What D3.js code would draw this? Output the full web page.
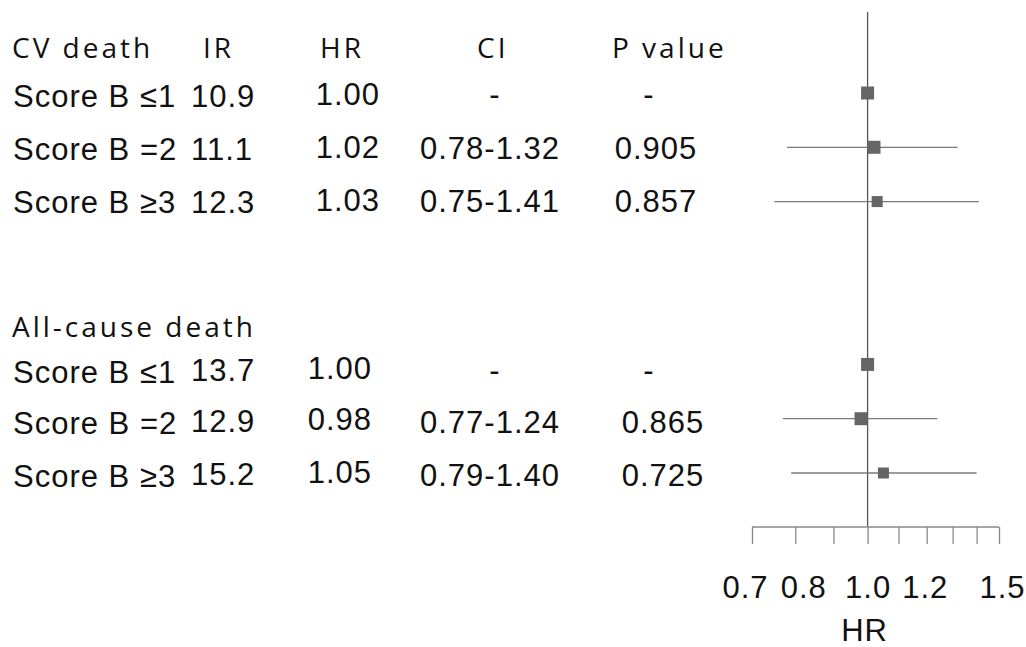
<!DOCTYPE html>
<html>
<head>
<meta charset="utf-8">
<script src="https://cdn.jsdelivr.net/npm/d3@7"></script>
<style>
  html, body { margin: 0; padding: 0; background: #fff; }
  svg { display: block; }
  .num { font-family: "Liberation Sans", Arial, sans-serif; font-size: 31px; letter-spacing: 1px; fill: #111; }
  .head { font-family: "Open Sans", "Noto Sans", sans-serif; font-size: 28px; letter-spacing: 3px; fill: #111; }
</style>
</head>
<body>
<svg id="chart" width="1026" height="647"></svg>
<script>
// Subgroups shown in both outcome blocks
const categories = ["Score B \u22641", "Score B =2", "Score B \u22653"];
const outcomes = ["CV death", "All-cause death"];
const columns = ["IR", "HR", "CI", "P value"];

// CV death
const irCV = [10.9, 11.1, 12.3];
const hrCV = [1.00, 1.02, 1.03];
const loCV = [null, 0.78, 0.75];
const hiCV = [null, 1.32, 1.41];
const pCV = [null, 0.905, 0.857];

// All-cause death
const irAll = [13.7, 12.9, 15.2];
const hrAll = [1.00, 0.98, 1.05];
const loAll = [null, 0.77, 0.79];
const hiAll = [null, 1.24, 1.40];
const pAll = [null, 0.865, 0.725];

// HR axis
const tickValues = [0.7, 0.8, 0.9, 1.0, 1.1, 1.2, 1.3, 1.4, 1.5];
const tickLabels = [0.7, 0.8, 1.0, 1.2, 1.5];
const axisTitle = "HR";

const blocks = [
  { name: outcomes[0], ir: irCV, hr: hrCV, lo: loCV, hi: hiCV, p: pCV },
  { name: outcomes[1], ir: irAll, hr: hrAll, lo: loAll, hi: hiAll, p: pAll }
];

const svg = d3.select("#chart");

// log-scaled HR axis
const x = d3.scaleLog().domain([0.7, 1.5]).range([752, 999]);
// forest plot rows: 1-3 first block, 6-8 second block
const yRow = d3.scaleLinear().domain([1, 8]).range([93, 473]);

const fmt1 = d3.format(".1f"), fmt2 = d3.format(".2f"), fmt3 = d3.format(".3f");

// table layout per block
const layout = [
  { head: 58, rows: [107, 160, 213], hrEnd: 380, hrDy: -2, irDy: 0, pMid: 656, startRow: 1 },
  { head: 337, rows: [383, 434, 487], hrEnd: 372, hrDy: -4, irDy: -2, pMid: 663, startRow: 6 }
];

const table = svg.append("g");

blocks.forEach((b, bi) => {
  const L = layout[bi];
  const g = table.append("g");
  g.append("text").attr("class", "head").attr("x", 12).attr("y", L.head).text(b.name);
  if (bi === 0) {
    const hx = [203, 320, 477, 612];
    columns.forEach((c, ci) => {
      g.append("text").attr("class", "head").attr("x", hx[ci]).attr("y", L.head).text(c);
    });
  }
  categories.forEach((cat, i) => {
    const yb = L.rows[i];
    g.append("text").attr("class", "num").attr("x", 13).attr("y", yb).text(cat);
    g.append("text").attr("class", "num").attr("x", 191).attr("y", yb + L.irDy).text(fmt1(b.ir[i]));
    g.append("text").attr("class", "num").attr("x", L.hrEnd).attr("y", yb + L.hrDy)
      .attr("text-anchor", "end").text(fmt2(b.hr[i]));
    if (b.lo[i] == null) {
      g.append("text").attr("class", "num").attr("x", 495).attr("y", yb - 2)
        .attr("text-anchor", "middle").text("-");
      g.append("text").attr("class", "num").attr("x", 649).attr("y", yb - 2)
        .attr("text-anchor", "middle").text("-");
    } else {
      g.append("text").attr("class", "num").attr("x", 490).attr("y", yb - 1)
        .attr("text-anchor", "middle").text(fmt2(b.lo[i]) + "-" + fmt2(b.hi[i]));
      g.append("text").attr("class", "num").attr("x", L.pMid).attr("y", yb - 1)
        .attr("text-anchor", "middle").text(fmt3(b.p[i]));
    }
  });
});

// reference line at HR = 1
svg.append("line")
  .attr("x1", x(1)).attr("x2", x(1))
  .attr("y1", 12).attr("y2", 527)
  .attr("stroke", "#555").attr("stroke-width", 1.3);

// confidence intervals and point estimates
const points = [];
blocks.forEach((b, bi) => {
  categories.forEach((cat, i) => {
    points.push({ row: layout[bi].startRow + i, hr: b.hr[i], lo: b.lo[i], hi: b.hi[i], idx: i });
  });
});

const marks = svg.append("g");
marks.selectAll("line.ci")
  .data(points.filter(d => d.lo != null))
  .join("line")
  .attr("class", "ci")
  .attr("x1", d => x(d.lo)).attr("x2", d => x(d.hi))
  .attr("y1", d => yRow(d.row)).attr("y2", d => yRow(d.row))
  .attr("stroke", "#7a7a7a").attr("stroke-width", 1.3);

const side = d => (d.idx === 2 ? 11 : 13);
marks.selectAll("rect.pt")
  .data(points)
  .join("rect")
  .attr("class", "pt")
  .attr("x", d => x(d.hr) - side(d) / 2)
  .attr("y", d => yRow(d.row) - side(d) / 2)
  .attr("width", side).attr("height", side)
  .attr("fill", "#656565");

// bottom axis
const isLabelled = v => tickLabels.some(t => Math.abs(t - v) < 1e-9);
const axis = d3.axisBottom(x)
  .tickValues(tickValues)
  .tickSize(17)
  .tickFormat(v => (isLabelled(v) ? d3.format(".1f")(v) : ""));

// small horizontal nudges so neighbouring labels do not collide
const labelShift = { "0.7": -7, "0.8": 8, "1.0": 0, "1.2": -2, "1.5": 3 };

const ax = svg.append("g").attr("transform", "translate(0,527)").call(axis);
ax.select(".domain").attr("d", `M${x(0.7)},0H${x(1.5)}`).attr("stroke", "#888").attr("stroke-width", 1.3);
ax.selectAll(".tick line").attr("stroke", "#888").attr("stroke-width", 1.3);
ax.selectAll(".tick text")
  .attr("y", 71).attr("dy", 0)
  .attr("x", d => (labelShift[d3.format(".1f")(d)] || 0))
  .attr("font-family", "'Liberation Sans', Arial, sans-serif")
  .attr("letter-spacing", "1px")
  .attr("font-size", 31).attr("fill", "#111");

svg.append("text").attr("class", "num")
  .attr("x", x(1) - 3).attr("y", 641).attr("text-anchor", "middle").text(axisTitle);
</script>
</body>
</html>
